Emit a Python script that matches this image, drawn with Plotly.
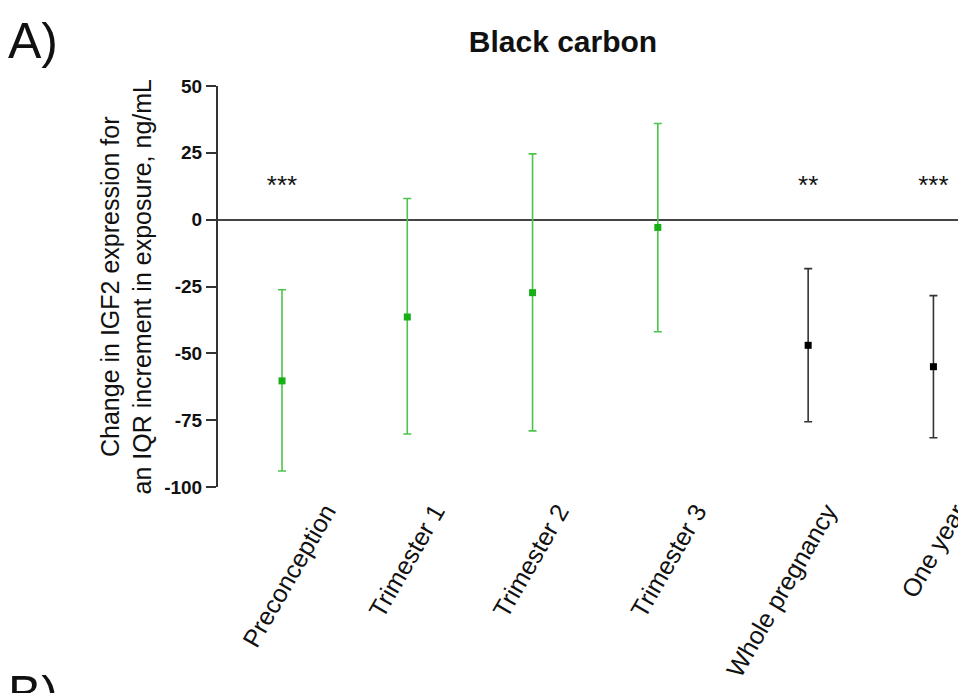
import plotly.graph_objects as go

# ---- data ----
categories = ["Preconception", "Trimester 1", "Trimester 2", "Trimester 3", "Whole pregnancy", "One year"]
estimate = [-60.3, -36.4, -27.3, -2.9, -47.0, -55.0]
ci_lower = [-94.0, -80.2, -79.0, -41.9, -75.6, -81.6]
ci_upper = [-26.2, 7.9, 24.6, 36.0, -18.3, -28.4]
significance = ["***", "", "", "", "**", "***"]
star_level = [12, 12, 12, 12, 12, 12]
series_group = ["trimester", "trimester", "trimester", "trimester", "overall", "overall"]
y_ticks = [50, 25, 0, -25, -50, -75, -100]
y_tick_text = ["50", "25", "0", "-25", "-50", "-75", "-100"]

# ---- layout helpers (slot positions on the x axis) ----
x_slots = [1, 2, 3, 4, 5.2, 6.2]          # where the estimates sit
label_slots = [1.35, 2.22, 3.21, 4.31, 5.35, 6.38]  # where the rotated labels end

FONT = "Liberation Sans, Arial, sans-serif"
colors = {"trimester": ("#4cc44c", "#16b016"), "overall": ("#333333", "#000000")}

# page offset: the html body has an 8px margin
OFF = 8
W, H = 966 - OFF, 693 - OFF
plot_left, plot_top, plot_bottom = 218, 86, 487  # in window pixels
plot_w = 966 - plot_left
plot_h = plot_bottom - plot_top

fig = go.Figure()
for grp in ["trimester", "overall"]:
    idx = [i for i, g in enumerate(series_group) if g == grp]
    line_c, mark_c = colors[grp]
    fig.add_trace(go.Scatter(
        x=[x_slots[i] for i in idx],
        y=[estimate[i] for i in idx],
        mode="markers",
        marker=dict(symbol="square", size=7, color=mark_c),
        error_y=dict(
            type="data", symmetric=False,
            array=[ci_upper[i] - estimate[i] for i in idx],
            arrayminus=[estimate[i] - ci_lower[i] for i in idx],
            color=line_c, thickness=1.6, width=4,
        ),
        showlegend=False,
        hoverinfo="skip",
    ))

fig.add_trace(go.Scatter(
    x=x_slots, y=star_level, mode="text", text=significance,
    textfont=dict(family=FONT, size=26, color="#111111"),
    textposition="middle center", showlegend=False, hoverinfo="skip",
))

fig.update_layout(
    width=W, height=H,
    margin=dict(l=plot_left - OFF, r=0, t=plot_top - OFF, b=H - (plot_bottom - OFF)),
    paper_bgcolor="white", plot_bgcolor="white",
    font=dict(family=FONT, color="#111111"),
    title=dict(text="<b>Black carbon</b>", x=(563 - OFF) / W, xref="container", xanchor="center",
               y=1 - (41 - OFF) / H, yref="container", yanchor="middle",
               font=dict(family=FONT, size=30, color="#111111")),
    xaxis=dict(
        range=[0.489, 6.46], showgrid=False, zeroline=False, showline=False,
        automargin=False,
        tickmode="array", tickvals=label_slots, ticktext=categories, ticks="",
        tickangle=-60, ticklabelstandoff=4,
        ticklabeloverflow="allow",
        tickfont=dict(family=FONT, size=25, color="#111111"),
    ),
    yaxis=dict(
        range=[-100, 50], showgrid=False, automargin=False,
        zeroline=True, zerolinecolor="#444444", zerolinewidth=2,
        showline=True, linecolor="#333333", linewidth=2,
        ticks="outside", ticklen=10, tickwidth=2, tickcolor="#333333",
        tickmode="array", tickvals=y_ticks, ticktext=y_tick_text,
        tickfont=dict(family=FONT, size=19, color="#111111", weight="bold"),
    ),
    annotations=[
        dict(text="Change in IGF2 expression for<br>an IQR increment in exposure, ng/mL",
             textangle=-90, xref="paper", yref="paper", x=(126 - plot_left) / plot_w, y=0.5,
             xanchor="center", yanchor="middle", showarrow=False,
             font=dict(family=FONT, size=25, color="#111111")),
        dict(text="A)", xref="paper", yref="paper", x=(6 - plot_left) / plot_w,
             y=(plot_bottom - 41) / plot_h,
             xanchor="left", yanchor="middle", showarrow=False,
             font=dict(family=FONT, size=50, color="#111111")),
        dict(text="B)", xref="paper", yref="paper", x=(6 - plot_left) / plot_w,
             y=(plot_bottom - 664) / plot_h,
             xanchor="left", yanchor="top", showarrow=False,
             font=dict(family=FONT, size=50, color="#111111")),
    ],
)

fig.write_html("out.html")
